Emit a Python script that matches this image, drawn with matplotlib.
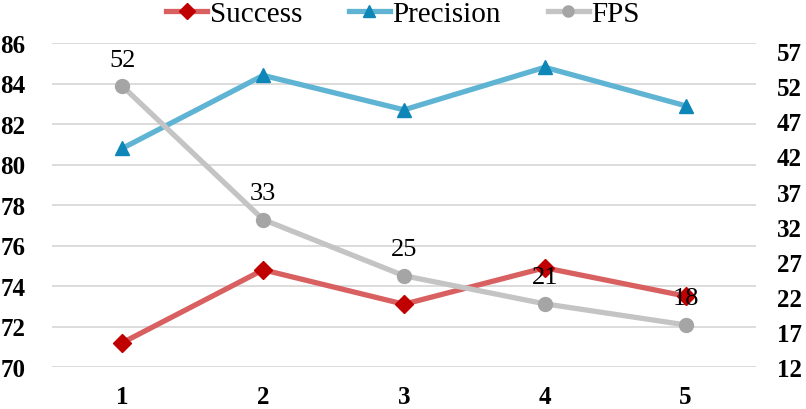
import matplotlib
matplotlib.use('Agg')
import matplotlib.pyplot as plt
from matplotlib.lines import Line2D

plt.rcParams['font.family'] = ['Liberation Serif', 'DejaVu Serif']

# data
categories = ['1', '2', '3', '4', '5']
success = [71.2, 74.8, 73.1, 74.9, 73.5]
precision = [80.8, 84.4, 82.7, 84.8, 82.9]
fps = [52, 33, 25, 21, 18]
left_ticks = [70, 72, 74, 76, 78, 80, 82, 84, 86]
right_ticks = [12, 17, 22, 27, 32, 37, 42, 47, 52, 57]

W, H = 806, 410
fig = plt.figure(figsize=(W / 100, H / 100), dpi=100)
ax = fig.add_axes([52 / W, (H - 368) / H, (756 - 52) / W, (368 - 44) / H])
ax2 = ax.twinx()

x = range(1, len(categories) + 1)

ax.set_xlim(0.5, 5.5)
ax.set_ylim(70, 86)
ax2.set_ylim(12, 12 + 324 / 7.02)

for t in left_ticks:
    ax.axhline(t, color='#D9D9D9', lw=1.3, zorder=0)

c_succ, c_succ_m = '#D96060', '#C00000'
c_prec, c_prec_m = '#5FB4D3', '#0E86B8'
c_fps, c_fps_m = '#C4C4C4', '#A5A5A5'

ax.plot(x, success, color=c_succ, lw=3.8, marker='D', ms=9,
        mfc=c_succ_m, mec=c_succ_m, zorder=3)
ax.plot(x, precision, color=c_prec, lw=3.8, marker='^', ms=10,
        mfc=c_prec_m, mec=c_prec_m, zorder=3)
ax2.plot(x, fps, color=c_fps, lw=3.8, marker='o', ms=10,
         mfc=c_fps_m, mec=c_fps_m, zorder=2)

for xi, v in zip(x, fps):
    ax2.annotate(str(v), (xi, v), xytext=(0, 19), textcoords='offset points',
                 ha='center', va='center', fontsize=19)

ax.set_xticks(list(x))
ax.set_xticklabels(categories, fontsize=18, fontweight='bold')
ax.set_yticks(left_ticks)
ax.set_yticklabels([str(t) for t in left_ticks], fontsize=18, fontweight='bold')
ax2.set_yticks(right_ticks)
ax2.set_yticklabels([str(t) for t in right_ticks], fontsize=18, fontweight='bold')

ax.tick_params(axis='both', length=0)
ax.tick_params(axis='x', pad=13)
ax.tick_params(axis='y', pad=19)
ax2.tick_params(axis='y', length=0, pad=15)

for a in (ax, ax2):
    for s in a.spines.values():
        s.set_visible(False)

handles = [
    Line2D([], [], color=c_succ, lw=3.8, marker='D', ms=8, mfc=c_succ_m, mec=c_succ_m),
    Line2D([], [], color=c_prec, lw=3.8, marker='^', ms=9, mfc=c_prec_m, mec=c_prec_m),
    Line2D([], [], color=c_fps, lw=3.8, marker='o', ms=8, mfc=c_fps_m, mec=c_fps_m),
]
fig.legend(handles, ['Success', 'Precision', 'FPS'], loc='center',
           bbox_to_anchor=(0.5, (H - 15) / H), ncol=3, frameon=False,
           fontsize=21, handlelength=1.4, handletextpad=0.1, columnspacing=1.6)

fig.savefig('out.png', dpi=100)
